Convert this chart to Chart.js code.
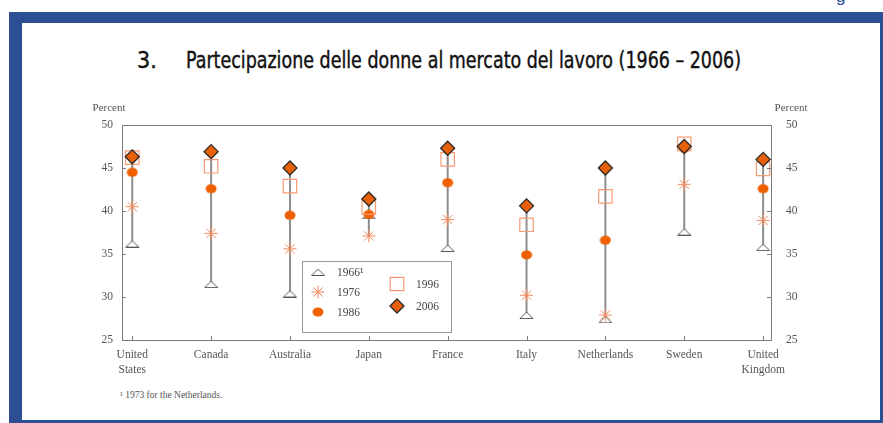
<!DOCTYPE html>
<html>
<head>
<meta charset="utf-8">
<script src="https://cdn.jsdelivr.net/npm/chart.js@4.4.1/dist/chart.umd.min.js"></script>
<style>
    html, body { margin: 0; padding: 0; background: #fff; }
    body { width: 883px; height: 423px; position: relative; overflow: hidden; }
    #frame {
        position: absolute; left: 9px; top: 12px; width: 858px; height: 397px;
        border-left: 13px solid #2c4f93; border-top: 11px solid #2c4f93;
        border-right: 3px solid #2c4f93; border-bottom: 3px solid #2c4f93;
        background: #fff;
    }
    #topg { position: absolute; left: 836px; top: -13px; font: 17px "Liberation Sans", sans-serif; color: #2c4f93; }
    #num, #title { position: absolute; top: 47px; font: 23px "Liberation Sans Narrow", "DejaVu Sans Condensed", "Liberation Sans", sans-serif; color: #111; white-space: nowrap; -webkit-text-stroke: 0.4px #111; }
    #num { left: 137px; }
    #title { left: 186px; transform-origin: 0 0; }
    #note { position: absolute; left: 120px; top: 390px; font: 9.5px "Liberation Serif", serif; color: #555; }
    #chart { position: absolute; left: 0; top: 0; }
</style>
</head>
<body>
<div id="frame"></div>
<div id="topg">g</div>
<div id="num">3.</div>
<div id="title">Partecipazione delle donne al mercato del lavoro (1966 – 2006)</div>
<div id="note">¹ 1973 for the Netherlands.</div>
<canvas id="chart" width="883" height="423"></canvas>
<script>
// categories and values
const countries = [['United', 'States'], 'Canada', 'Australia', 'Japan', 'France', 'Italy', 'Netherlands', 'Sweden', ['United', 'Kingdom']];
const years = ['1966¹', '1976', '1986', '1996', '2006'];
const v1966 = [36.2, 31.5, 30.4, 39.5, 35.7, 27.9, 27.4, 37.6, 35.8];
const v1976 = [40.5, 37.4, 35.6, 37.1, 39.0, 30.2, 27.9, 43.1, 38.9];
const v1986 = [44.5, 42.6, 39.5, 39.6, 43.3, 34.9, 36.6, 47.3, 42.6];
const v1996 = [46.2, 45.2, 42.9, 40.4, 46.0, 38.4, 41.7, 47.8, 44.9];
const v2006 = [46.3, 46.9, 45.0, 41.4, 47.3, 40.6, 45.0, 47.5, 46.0];
const yTicks = [25, 30, 35, 40, 45, 50];

const AXIS = '#7a7a7a';
const TEXT = '#555';
const SERIF = '"Liberation Serif", "DejaVu Serif", serif';

// stretch the title to the width it has in the reference
const titleEl = document.getElementById('title');
titleEl.style.transform = 'scaleX(' + (555 / titleEl.getBoundingClientRect().width) + ')';

/**
 * Small canvases used as marker shapes
 */
function makeTriangle() {
    const c = document.createElement('canvas');
    c.width = 15; c.height = 8;
    const g = c.getContext('2d');
    g.beginPath();
    g.moveTo(1, 7.5); g.lineTo(14, 7.5); g.lineTo(7.5, 1); g.closePath();
    g.fillStyle = '#fff'; g.fill();
    g.strokeStyle = '#555'; g.lineWidth = 1; g.stroke();
    return c;
}

function makeDot() {
    const c = document.createElement('canvas');
    c.width = 12; c.height = 10;
    const g = c.getContext('2d');
    g.beginPath();
    g.ellipse(6, 5, 5.5, 4.5, 0, 0, Math.PI * 2);
    g.fillStyle = '#f06000'; g.fill();
    return c;
}

const triangle = makeTriangle();
const dot = makeDot();

function pts(arr) {
    return arr.map((v, i) => ({ x: i, y: v }));
}

const ranges = countries.map((c, i) => {
    const all = [v1966[i], v1976[i], v1986[i], v1996[i], v2006[i]];
    return { x: i, y: [Math.min.apply(null, all), Math.max.apply(null, all)] };
});

const series = [
    { label: years[0], data: pts(v1966), pointStyle: triangle, pointRadius: 7, backgroundColor: '#fff', borderColor: '#555', pointBorderWidth: 1, order: 5 },
    { label: years[1], data: pts(v1976), pointStyle: 'star', pointRadius: 6.5, backgroundColor: '#f5895a', borderColor: '#f5895a', pointBorderWidth: 1, order: 4 },
    { label: years[2], data: pts(v1986), pointStyle: dot, pointRadius: 6, backgroundColor: '#f06000', borderColor: '#f06000', pointBorderWidth: 0, order: 3 },
    { label: years[3], data: pts(v1996), pointStyle: 'rect', pointRadius: 9.5, backgroundColor: 'rgba(255,255,255,0)', borderColor: '#f59a74', pointBorderWidth: 1.2, order: 2 },
    { label: years[4], data: pts(v2006), pointStyle: 'rectRot', pointRadius: 7, backgroundColor: '#e8600a', borderColor: '#2a2a2a', pointBorderWidth: 1.3, order: 1 }
];

/**
 * Frame, inward ticks, axis titles and the boxed legend
 */
const decorations = {
    id: 'decorations',
    afterDatasetsDraw(chart) {
        const ctx = chart.ctx;
        const a = chart.chartArea;
        const y = chart.scales.y;
        const x = chart.scales.x;
        ctx.save();
        ctx.strokeStyle = AXIS;
        ctx.lineWidth = 1;
        ctx.strokeRect(a.left + 0.5, a.top + 0.5, a.right - a.left, a.bottom - a.top);
        ctx.beginPath();
        yTicks.forEach(t => {
            const py = Math.round(y.getPixelForValue(t)) + 0.5;
            ctx.moveTo(a.left, py); ctx.lineTo(a.left + 4, py);
            ctx.moveTo(a.right, py); ctx.lineTo(a.right - 4, py);
        });
        countries.forEach((c, i) => {
            const px = Math.round(x.getPixelForValue(i)) + 0.5;
            ctx.moveTo(px, a.bottom); ctx.lineTo(px, a.bottom - 4);
        });
        ctx.stroke();

        ctx.fillStyle = TEXT;
        ctx.font = '11px ' + SERIF;
        ctx.textAlign = 'center';
        ctx.textBaseline = 'middle';
        ctx.fillText('Percent', a.left - 13, a.top - 17);
        ctx.fillText('Percent', a.right + 20, a.top - 17);

        // legend box
        ctx.strokeStyle = '#999';
        ctx.fillStyle = '#fff';
        ctx.fillRect(302.5, 261.5, 149, 71);
        ctx.strokeRect(302.5, 261.5, 149, 71);
        const spots = [[318, 272], [318, 292], [318, 312], [397, 284], [397, 306]];
        series.forEach((s, k) => {
            const sx = spots[k][0], sy = spots[k][1];
            ctx.fillStyle = s.backgroundColor;
            ctx.strokeStyle = s.borderColor;
            ctx.lineWidth = s.pointBorderWidth;
            Chart.helpers.drawPoint(ctx, { pointStyle: s.pointStyle, radius: s.pointRadius, rotation: 0, borderWidth: s.pointBorderWidth }, sx, sy);
            ctx.fillStyle = '#444';
            ctx.font = '11.5px ' + SERIF;
            ctx.textAlign = 'left';
            ctx.fillText(s.label, sx + 19, sy + 1);
        });
        ctx.restore();
    }
};

new Chart(document.getElementById('chart'), {
    type: 'bar',
    data: {
        datasets: [
            {
                type: 'bar',
                data: ranges,
                backgroundColor: '#8c8c8c',
                barThickness: 1.3,
                order: 10
            }
        ].concat(series.map(s => Object.assign({ type: 'scatter', showLine: false, pointHoverRadius: s.pointRadius }, s)))
    },
    options: {
        responsive: false,
        animation: false,
        events: [],
        layout: { padding: { left: 82, right: 72, top: 125, bottom: 43 } },
        plugins: {
            legend: { display: false },
            tooltip: { enabled: false }
        },
        scales: {
            x: {
                type: 'linear',
                offset: false,
                min: -0.13,
                max: 8.1,
                grid: { display: false, drawTicks: false },
                border: { display: false },
                afterBuildTicks: scale => { scale.ticks = countries.map((c, i) => ({ value: i })); },
                afterFit: scale => { scale.height = 40; },
                ticks: {
                    autoSkip: false,
                    maxRotation: 0,
                    padding: 8,
                    color: TEXT,
                    font: { family: SERIF, size: 11.5, lineHeight: 1.3 },
                    callback: v => countries[v]
                }
            },
            y: {
                position: 'left',
                min: 25,
                max: 50,
                grid: { display: false, drawTicks: false },
                border: { display: false },
                afterBuildTicks: scale => { scale.ticks = yTicks.map(v => ({ value: v })); },
                afterFit: scale => { scale.width = 40; },
                ticks: { padding: 9, color: TEXT, font: { family: SERIF, size: 11.5 } }
            },
            y2: {
                position: 'right',
                min: 25,
                max: 50,
                grid: { display: false, drawTicks: false },
                border: { display: false },
                afterBuildTicks: scale => { scale.ticks = yTicks.map(v => ({ value: v })); },
                afterFit: scale => { scale.width = 40; },
                ticks: { padding: 15, color: TEXT, font: { family: SERIF, size: 11.5 } }
            }
        }
    },
    plugins: [decorations]
});
</script>
</body>
</html>
